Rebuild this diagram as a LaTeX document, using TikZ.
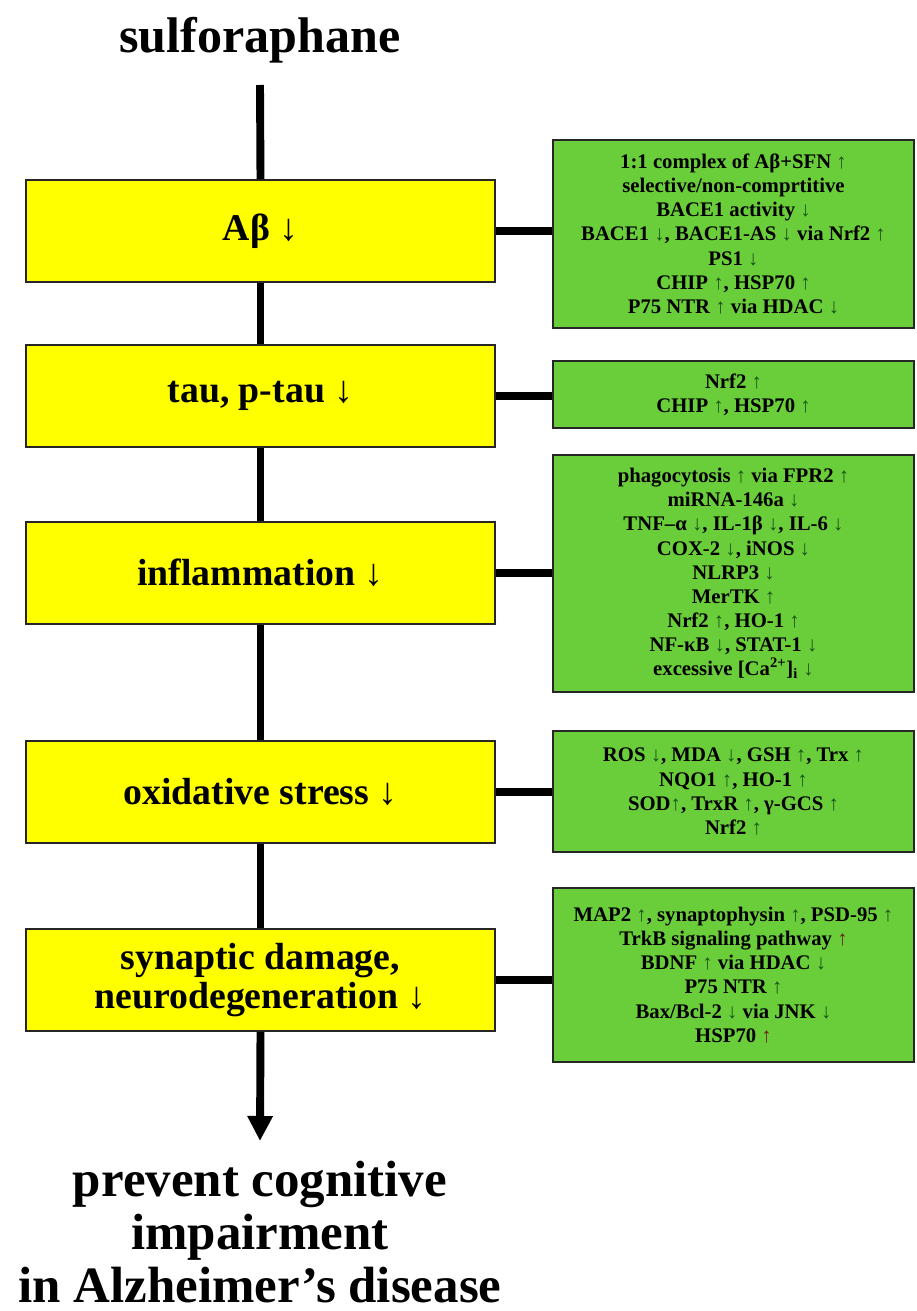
\documentclass[tikz,border=0pt]{standalone}
\usepackage{fontspec}
\setmainfont{Liberation Serif}
\usetikzlibrary{arrows.meta}
\definecolor{ybox}{RGB}{255,255,0}
\definecolor{gbox}{RGB}{106,205,58}
\definecolor{arrg}{RGB}{25,85,25}
\definecolor{arrr}{RGB}{110,30,20}
\newcommand{\myup}{{\color{arrg}↑}}
\newcommand{\mydn}{{\color{arrg}↓}}
\newcommand{\myupr}{{\color{arrr}↑}}
\begin{document}
\begin{tikzpicture}[x=0.02cm,y=-0.02cm,
  yellowbox/.style={draw=black!85, line width=0.9pt, fill=ybox, minimum width=9.38cm, minimum height=2.04cm, inner sep=0pt, align=center, font=\bfseries\fontsize{21.5}{22.5}\selectfont},
  greenbox/.style={draw=black!85, line width=0.9pt, fill=gbox, minimum width=7.22cm, inner sep=0pt, align=center, font=\bfseries\fontsize{11.8}{13.7}\selectfont},
  mainline/.style={line width=4.5pt},
  branch/.style={line width=4pt},
  bigtext/.style={align=center, inner sep=0pt, font=\bfseries\fontsize{29}{30}\selectfont}]
\useasboundingbox (0,0) rectangle (916,1311);

\node[bigtext, font=\bfseries\fontsize{28.5}{31}\selectfont] (title) at (260,40) {sulforaphane};
\coordinate (top) at (260,85);
\coordinate (tip) at (260,1141);

\node[yellowbox] (y1) at (260.5,231) {Aβ ↓};
\node[yellowbox] (y2) at (260.5,396) {tau, p-tau ↓};
\node[yellowbox] (y3) at (260.5,573) {inflammation ↓};
\node[yellowbox] (y4) at (260.5,792) {oxidative stress ↓};
\node[yellowbox] (y5) at (260.5,980) {synaptic damage,\\neurodegeneration ↓};

\node[greenbox, minimum height=3.76cm] (g1) at (733.5,234) {1:1 complex of Aβ+SFN \myup\\selective/non-comprtitive\\BACE1 activity \mydn\\BACE1 \mydn, BACE1-AS \mydn\ via Nrf2 \myup\\PS1 \mydn\\CHIP \myup, HSP70 \myup\\P75 NTR \myup\ via HDAC \mydn};
\node[greenbox, minimum height=1.34cm] (g2) at (733.5,394.5) {Nrf2 \myup\\CHIP \myup, HSP70 \myup};
\node[greenbox, minimum height=4.74cm] (g3) at (733.5,573.5) {phagocytosis \myup\ via FPR2 \myup\\miRNA-146a \mydn\\TNF–α \mydn, IL-1β \mydn, IL-6 \mydn\\COX-2 \mydn, iNOS \mydn\\NLRP3 \mydn\\MerTK \myup\\Nrf2 \myup, HO-1 \myup\\NF-κB \mydn, STAT-1 \mydn\\excessive [Ca\textsuperscript{2+}]\textsubscript{i} \mydn};
\node[greenbox, minimum height=2.42cm] (g4) at (733.5,791.5) {ROS \mydn, MDA \mydn, GSH \myup, Trx \myup\\NQO1 \myup, HO-1 \myup\\SOD\myup, TrxR \myup, γ-GCS \myup\\Nrf2 \myup};
\node[greenbox, minimum height=3.48cm] (g5) at (733.5,975) {MAP2 \myup, synaptophysin \myup, PSD-95 \myup\\TrkB signaling pathway \myupr\\BDNF \myup\ via HDAC \mydn\\P75 NTR \myup\\Bax/Bcl-2 \mydn\ via JNK \mydn\\HSP70 \myupr};

\draw[mainline] (top) -- (y1.north);
\draw[mainline] (y1.south) -- (y2.north);
\draw[mainline] (y2.south) -- (y3.north);
\draw[mainline] (y3.south) -- (y4.north);
\draw[mainline] (y4.south) -- (y5.north);
\draw[mainline, -{Triangle[length=0.5cm, width=0.48cm]}] (y5.south) -- (tip);

\draw[branch] (y1.east) -- (g1.west |- y1.east);
\draw[branch] (y2.east) -- (g2.west |- y2.east);
\draw[branch] (y3.east) -- (g3.west |- y3.east);
\draw[branch] (y4.east) -- (g4.west |- y4.east);
\draw[branch] (y5.east) -- (g5.west |- y5.east);

\node[bigtext] (result) at (260,1232) {prevent cognitive\\impairment\\in Alzheimer’s disease};
\end{tikzpicture}
\end{document}
